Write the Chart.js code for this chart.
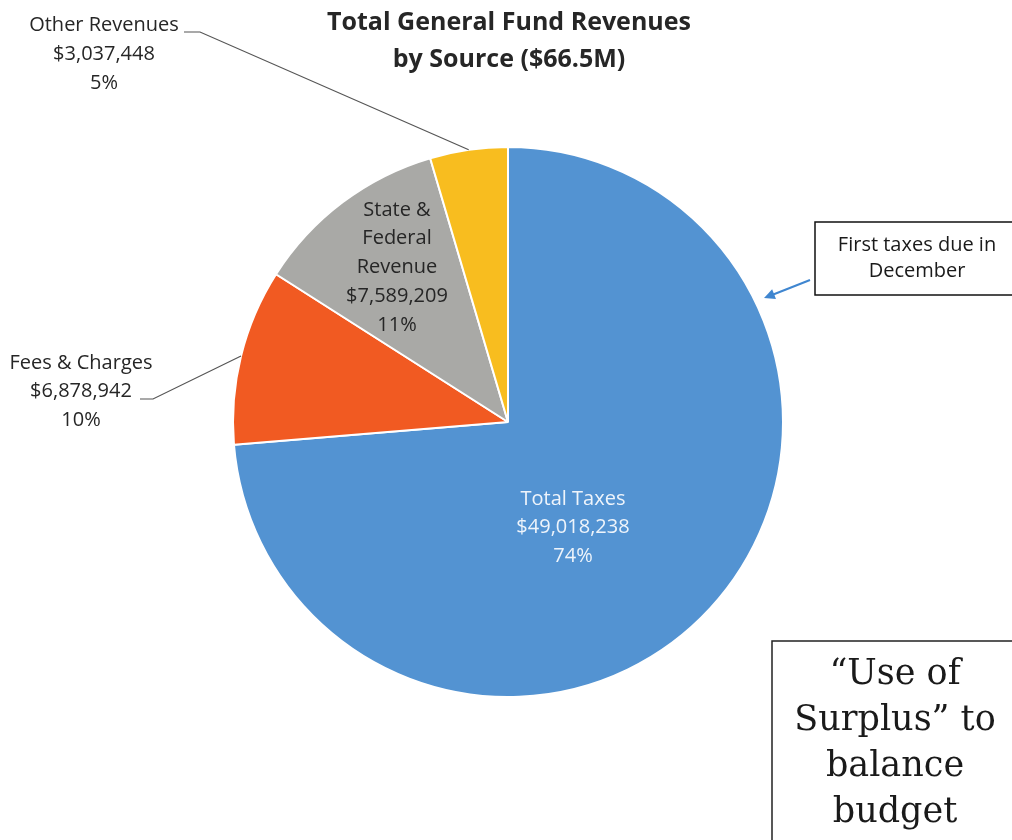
<!DOCTYPE html>
<html>
<head>
<meta charset="utf-8">
<script src="https://cdn.jsdelivr.net/npm/chart.js@4/dist/chart.umd.min.js"></script>
<style>
  html, body { margin: 0; padding: 0; background: #fff; }
  #wrap { position: relative; width: 1012px; height: 840px; }
</style>
</head>
<body>
<div id="wrap"><canvas id="chartRevenue" width="1012" height="840"></canvas></div>
<script>
// Revenue sources, clockwise from 12 o'clock
const sources = ["Total Taxes", "Fees & Charges", "State & Federal Revenue", "Other Revenues"];
const amounts = [49018238, 6878942, 7589209, 3037448];
const percents = ["74%", "10%", "11%", "5%"];
const sliceColors = ["#5393d2", "#f15a22", "#a9a9a6", "#f8bd1f"];

const titleLines = ["Total General Fund Revenues", "by Source ($66.5M)"];
const taxNote = ["First taxes due in", "December"];
const surplusNote = ["\u201CUse of", "Surplus\u201D to", "balance", "budget"];

const labelFont = '"Open Sans", sans-serif';

function money(v) {
  return "$" + v.toLocaleString("en-US");
}

function drawLines(ctx, lines, x, y, step) {
  lines.forEach((t, i) => ctx.fillText(t, x, y + i * step));
}

// point on the rim of a slice, part way between its edges
function rimPoint(arc, frac) {
  const a = arc.startAngle + (arc.endAngle - arc.startAngle) * frac;
  return [arc.x + Math.cos(a) * arc.outerRadius, arc.y + Math.sin(a) * arc.outerRadius];
}

// Title, slice labels, leader lines and the two notes
const annotations = {
  id: "annotations",
  afterDraw(chart) {
    const ctx = chart.ctx;
    const arcs = chart.getDatasetMeta(0).data;
    ctx.save();
    ctx.textAlign = "center";
    ctx.textBaseline = "middle";

    // title
    ctx.fillStyle = "#262626";
    ctx.font = 'bold 25px "Open Sans", sans-serif';
    drawLines(ctx, titleLines, 509, 23, 37);

    // labels inside slices
    ctx.font = "20px " + labelFont;
    ctx.fillStyle = "#eef4fb";
    drawLines(ctx, [sources[0], money(amounts[0]), percents[0]], 573, 499, 28.5);
    ctx.fillStyle = "#262626";
    drawLines(ctx, ["State &", "Federal", "Revenue", money(amounts[2]), percents[2]], 397, 210, 28.7);

    // labels outside with leader lines
    drawLines(ctx, [sources[3], money(amounts[3]), percents[3]], 104, 25, 29);
    drawLines(ctx, [sources[1], money(amounts[1]), percents[1]], 81, 363, 28.5);

    ctx.strokeStyle = "#555";
    ctx.lineWidth = 1.2;
    let p = rimPoint(arcs[3], 0.5);
    ctx.beginPath();
    ctx.moveTo(184, 32);
    ctx.lineTo(200, 32);
    ctx.lineTo(p[0], p[1]);
    ctx.stroke();

    p = rimPoint(arcs[1], 0.5);
    ctx.beginPath();
    ctx.moveTo(140, 399);
    ctx.lineTo(153, 399);
    ctx.lineTo(p[0], p[1]);
    ctx.stroke();

    // note box with arrow
    ctx.strokeStyle = "#111";
    ctx.lineWidth = 1.5;
    ctx.strokeRect(815, 222, 210, 73);
    ctx.fillStyle = "#1a1a1a";
    ctx.font = "20px " + labelFont;
    drawLines(ctx, taxNote, 917, 245, 26);

    ctx.strokeStyle = "#3f86d0";
    ctx.fillStyle = "#3f86d0";
    ctx.lineWidth = 2;
    ctx.beginPath();
    ctx.moveTo(810, 280);
    ctx.lineTo(772, 295);
    ctx.stroke();
    const ang = Math.atan2(298 - 280, 764 - 810);
    ctx.beginPath();
    ctx.moveTo(764, 298);
    ctx.lineTo(764 - Math.cos(ang - 0.45) * 12, 298 - Math.sin(ang - 0.45) * 12);
    ctx.lineTo(764 - Math.cos(ang + 0.45) * 12, 298 - Math.sin(ang + 0.45) * 12);
    ctx.closePath();
    ctx.fill();

    // surplus box
    ctx.strokeStyle = "#222";
    ctx.lineWidth = 1.5;
    ctx.strokeRect(772, 641, 260, 220);
    ctx.fillStyle = "#1a1a1a";
    ctx.font = '35px "DejaVu Serif", serif';
    drawLines(ctx, surplusNote, 895, 675, 46);

    ctx.restore();
  },
};

new Chart(document.getElementById("chartRevenue").getContext("2d"), {
  type: "pie",
  data: {
    labels: sources,
    datasets: [
      {
        data: amounts,
        backgroundColor: sliceColors,
        borderColor: "#ffffff",
        borderWidth: 2,
      },
    ],
  },
  options: {
    responsive: false,
    animation: false,
    layout: {
      padding: { left: 232, right: 228, top: 146, bottom: 142 },
    },
    plugins: {
      legend: { display: false },
      tooltip: { enabled: false },
      title: { display: false },
    },
  },
  plugins: [annotations],
});
</script>
</body>
</html>
